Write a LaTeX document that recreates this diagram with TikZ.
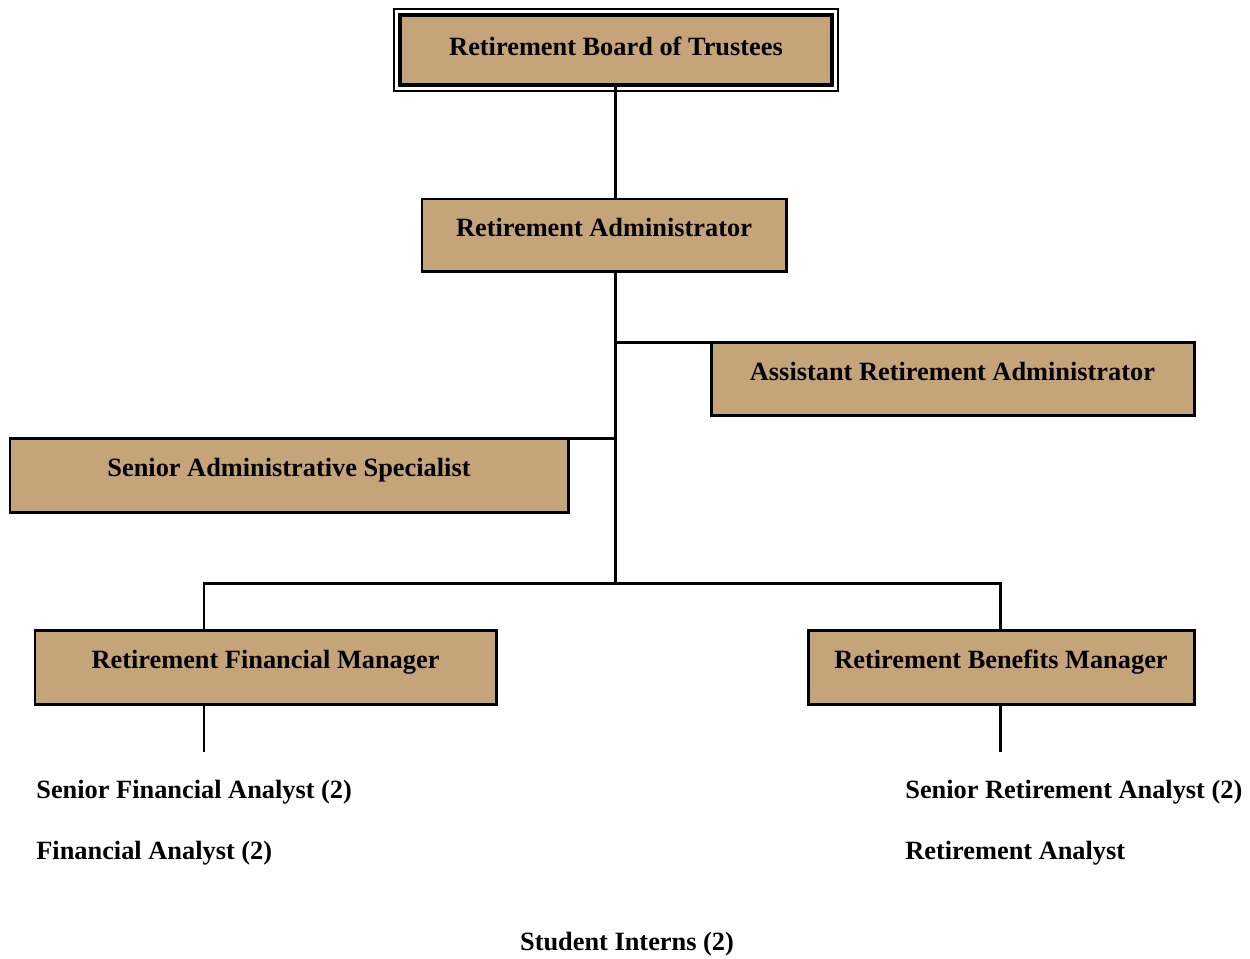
\documentclass[tikz,border=0pt]{standalone}
\usepackage{fontspec}
\setmainfont{Liberation Serif}
\usepackage{tikz}
\usetikzlibrary{calc}
\definecolor{tanbox}{RGB}{196,164,120}

\begin{document}
\begin{tikzpicture}[line cap=rect,line join=miter,x=1.0cm,y=1.0cm,
  font=\fontsize{15}{18}\selectfont\bfseries,
  post/.style={draw=black,line width=1.7pt,fill=tanbox,inner sep=0pt,outer sep=0pt,
    text height=0.40cm,text depth=0.33cm},
  link/.style={line width=1.7pt}]
\useasboundingbox (0.,0.) rectangle (25.,-19.16);
% boxes
\node[post,line width=2.6pt,minimum width=8.64cm,minimum height=1.40cm,text depth=0.17cm] (board) at (12.32,-1.00) {Retirement Board of Trustees};
\draw[line width=0.8pt] ($(board.south west)+(-0.12,-0.12)$) rectangle ($(board.north east)+(0.12,0.12)$);
\node[post,minimum width=7.28cm,minimum height=1.44cm] (admin) at (12.08,-4.70) {Retirement Administrator};
\node[post,minimum width=9.66cm,minimum height=1.46cm] (asst) at (19.05,-7.57) {Assistant Retirement Administrator};
\node[post,minimum width=11.16cm,minimum height=1.48cm] (spec) at (5.78,-9.50) {Senior Administrative Specialist};
\node[post,minimum width=9.22cm,minimum height=1.48cm] (finmgr) at (5.31,-13.34) {Retirement Financial Manager};
\node[post,minimum width=7.72cm,minimum height=1.48cm] (benmgr) at (20.02,-13.34) {Retirement Benefits Manager};
% branch points
\coordinate (hub) at (12.30,-11.66);
\coordinate (fleft) at (4.08,-11.66);
\coordinate (fright) at (20.00,-11.66);
\coordinate (fend) at (4.08,-15.00);
\coordinate (bend) at (20.00,-15.00);
% lines
\draw[link] (hub |- board.south)--(hub |- admin.north);
\draw[link] (hub |- admin.south)--(hub);
\draw[link] (hub |- asst.north)--(asst.north west);
\draw[link] (spec.north east)--(hub |- spec.north);
\draw[link] (fleft |- finmgr.north)--(fleft)--(fright)--(fright |- benmgr.north);
\draw[link] (fleft |- finmgr.south)--(fend);
\draw[link] (fright |- benmgr.south)--(bend);
% staff lists
\node[anchor=west,inner sep=0pt] (sfa) at (0.72,-15.84) {Senior Financial Analyst (2)};
\node[anchor=west,inner sep=0pt] (fa) at (0.72,-17.06) {Financial Analyst (2)};
\node[anchor=west,inner sep=0pt] (sra) at (18.10,-15.84) {Senior Retirement Analyst (2)};
\node[anchor=west,inner sep=0pt] (ra) at (18.10,-17.06) {Retirement Analyst};
\node[inner sep=0pt] (interns) at (12.54,-18.88) {Student Interns (2)};
\end{tikzpicture}
\end{document}
